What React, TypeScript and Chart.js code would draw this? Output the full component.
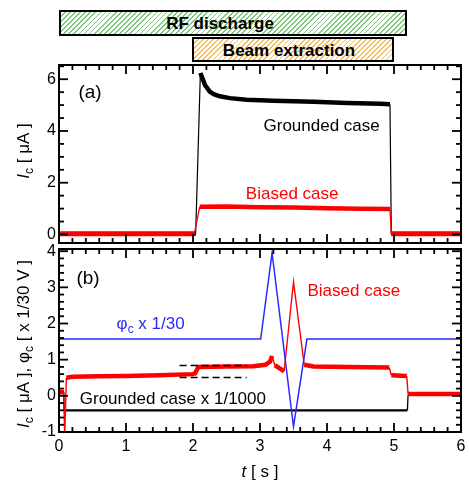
import React, { useEffect, useRef } from 'react';
import { Chart, registerables } from 'chart.js';

Chart.register(...registerables);

const FONT = "'Liberation Sans', Arial, Helvetica, sans-serif";

// ---------- Panel (a) data ----------
const A_GROUNDED_T = [0, 2.04, 2.11, 2.18, 2.25, 2.31, 2.4, 2.55, 2.8, 3.2, 3.8, 4.3, 4.8, 4.94, 4.96, 6];
const A_GROUNDED_I = [0.03, 0.03, 6.24, 5.77, 5.52, 5.42, 5.34, 5.27, 5.21, 5.17, 5.13, 5.08, 5.05, 5.03, 0.03, 0.03];
const A_BIASED_T = [0, 2.02, 2.1, 2.5, 3.0, 3.5, 4.0, 4.5, 4.94, 4.96, 6];
const A_BIASED_I = [0.02, 0.02, 1.07, 1.08, 1.05, 1.04, 1.01, 0.99, 0.98, 0.02, 0.02];

// ---------- Panel (b) data ----------
const B_BIASED_T = [0, 0.07, 0.085, 0.11, 0.2, 0.6, 1.0, 1.5, 2.0, 2.03, 2.08, 2.5, 2.9, 3.08, 3.15, 3.18, 3.22, 3.3, 3.36, 3.5, 3.66, 3.8, 4.3, 4.93, 4.96, 5.19, 5.21, 6];
const B_BIASED_I = [0.1, 0.1, -1.1, 0.5, 0.53, 0.54, 0.55, 0.57, 0.6, 0.62, 0.8, 0.81, 0.82, 0.86, 0.95, 1.1, 0.85, 0.75, 0.68, 3.15, 0.86, 0.81, 0.8, 0.78, 0.57, 0.55, 0.05, 0.05];
const B_GROUNDED_T = [0, 0.07, 0.075, 5.2, 5.21, 6];
const B_GROUNDED_I = [0.12, 0.12, -0.4, -0.4, 0.03, 0.03];
const B_PHI_T = [0, 3.01, 3.18, 3.5, 3.7, 6];
const B_PHI_V = [1.57, 1.57, 3.95, -0.85, 1.57, 1.57];
const DASH_T = [1.8, 2.8];
const DASH_UPPER = [0.84, 0.84];
const DASH_LOWER = [0.51, 0.51];

// ---------- Axes ----------
const X_LABELS = [0, 1, 2, 3, 4, 5, 6];
const X_MINOR = [0.2, 0.4, 0.6, 0.8, 1.2, 1.4, 1.6, 1.8, 2.2, 2.4, 2.6, 2.8, 3.2, 3.4, 3.6, 3.8, 4.2, 4.4, 4.6, 4.8, 5.2, 5.4, 5.6, 5.8];
const A_Y_LABELS = [0, 2, 4, 6];
const A_Y_MINOR = [0.5, 1, 1.5, 2.5, 3, 3.5, 4.5, 5, 5.5, 6.5];
const B_Y_LABELS = [-1, 0, 1, 2, 3, 4];
const B_Y_MINOR = [-0.8, -0.6, -0.4, -0.2, 0.2, 0.4, 0.6, 0.8, 1.2, 1.4, 1.6, 1.8, 2.2, 2.4, 2.6, 2.8, 3.2, 3.4, 3.6, 3.8];

const RED = '#ff0000';
const BLUE = '#2a2aff';
const BLACK = '#000000';

type Run = { s: string; size: number; style?: string; dy?: number };

function drawRuns(ctx: CanvasRenderingContext2D, runs: Run[], x: number, y: number, align: 'left' | 'center', color: string, rotate = false) {
  ctx.save();
  ctx.translate(x, y);
  if (rotate) ctx.rotate(-Math.PI / 2);
  const widths = runs.map((r) => {
    ctx.font = `${r.style ?? ''} ${r.size}px ${FONT}`;
    return ctx.measureText(r.s).width;
  });
  const total = widths.reduce((a, b) => a + b, 0);
  let cx = align === 'center' ? -total / 2 : 0;
  const main = Math.max(...runs.map((r) => r.size));
  const base = main * 0.36;
  ctx.fillStyle = color;
  ctx.textBaseline = 'alphabetic';
  ctx.textAlign = 'left';
  runs.forEach((r, i) => {
    ctx.font = `${r.style ?? ''} ${r.size}px ${FONT}`;
    ctx.fillText(r.s, cx, base + (r.dy ?? 0));
    cx += widths[i];
  });
  ctx.restore();
}

type Label = { t: number; v: number; runs: Run[]; align: 'left' | 'center'; color: string };
type PixLabel = { x: number; y: number; runs: Run[]; align: 'left' | 'center'; color: string; rotate?: boolean };

function makePlugin(yMajor: number[], yMinor: number[], labels: Label[], pix: PixLabel[]) {
  return {
    id: 'frameAndText',
    afterDraw(chart: any) {
      const ctx = chart.ctx;
      const a = chart.chartArea;
      const xs = chart.scales.x;
      const ys = chart.scales.y;
      labels.forEach((l) => drawRuns(ctx, l.runs, xs.getPixelForValue(l.t), ys.getPixelForValue(l.v), l.align, l.color));
      pix.forEach((l) => drawRuns(ctx, l.runs, l.x, l.y, l.align, l.color, l.rotate));
      ctx.save();
      ctx.fillStyle = '#000000';
      const W = 1.8;
      X_MINOR.forEach((v: number) => {
        const p = xs.getPixelForValue(v);
        ctx.fillRect(p - W / 2, a.bottom - 5, W, 5);
        ctx.fillRect(p - W / 2, a.top, W, 5);
      });
      X_LABELS.forEach((v: number) => {
        const p = xs.getPixelForValue(v);
        ctx.fillRect(p - W / 2, a.bottom - 9, W, 9);
        ctx.fillRect(p - W / 2, a.top, W, 9);
      });
      yMinor.forEach((v: number) => {
        const p = ys.getPixelForValue(v);
        ctx.fillRect(a.left, p - W / 2, 5, W);
        ctx.fillRect(a.right - 5, p - W / 2, 5, W);
      });
      yMajor.forEach((v: number) => {
        const p = ys.getPixelForValue(v);
        ctx.fillRect(a.left, p - W / 2, 9, W);
        ctx.fillRect(a.right - 9, p - W / 2, 9, W);
      });
      ctx.strokeStyle = '#000000';
      ctx.lineWidth = 2;
      ctx.strokeRect(a.left, a.top, a.right - a.left, a.bottom - a.top);
      ctx.restore();
    },
  };
}

const pts = (t: number[], v: number[]) => t.map((x, i) => ({ x, y: v[i] }));
const noisySeg = (thick: number, thin: number) => ({
  borderWidth: (c: any) => (Math.abs(c.p1.y - c.p0.y) > 3 * Math.abs(c.p1.x - c.p0.x) ? thin : thick),
});

function baseOptions(padding: any, xScale: any, yScale: any) {
  return {
    responsive: false,
    animation: false as const,
    events: [] as any[],
    layout: { padding },
    plugins: { legend: { display: false }, tooltip: { enabled: false } },
    elements: { point: { radius: 0 }, line: { tension: 0 } },
    scales: { x: xScale, y: yScale },
  };
}

function yScale(min: number, max: number, labels: number[]) {
  return {
    type: 'linear',
    min,
    max,
    afterBuildTicks: (s: any) => {
      s.ticks = labels.map((value) => ({ value }));
    },
    ticks: { color: '#000', font: { family: FONT, size: 16 }, padding: 3, callback: (v: any) => String(v) },
    grid: { display: false, drawTicks: false },
    border: { display: false },
    afterFit: (s: any) => {
      s.width = 59;
      s.paddingTop = 0;
      s.paddingBottom = 0;
    },
  };
}

export default function App() {
  const refA = useRef<HTMLCanvasElement>(null);
  const refB = useRef<HTMLCanvasElement>(null);

  useEffect(() => {
    const cfgA: any = {
      type: 'line',
      data: {
        datasets: [
          { data: pts(A_BIASED_T, A_BIASED_I), borderColor: RED, borderWidth: 4, segment: noisySeg(4.5, 1.3), pointRadius: 0, order: 0 },
          { data: pts(A_GROUNDED_T, A_GROUNDED_I), borderColor: BLACK, borderWidth: 4, segment: noisySeg(4.5, 1.2), pointRadius: 0, order: 1 },
        ],
      },
      options: baseOptions(
        { left: 0, right: 8, top: 10, bottom: 7 },
        {
          type: 'linear',
          min: 0,
          max: 6,
          ticks: { display: false },
          grid: { display: false, drawTicks: false },
          border: { display: false },
          afterFit: (s: any) => {
            s.height = 0;
            s.paddingLeft = 0;
            s.paddingRight = 0;
          },
        },
        yScale(-0.33, 6.55, A_Y_LABELS)
      ),
      plugins: [
        makePlugin(
          A_Y_LABELS,
          A_Y_MINOR,
          [
            { t: 0.464, v: 5.55, runs: [{ s: '(a)', size: 19 }], align: 'center', color: BLACK },
            { t: 3.92, v: 4.25, runs: [{ s: 'Grounded case', size: 17 }], align: 'center', color: BLACK },
            { t: 3.48, v: 1.61, runs: [{ s: 'Biased case', size: 17 }], align: 'center', color: RED },
          ],
          [
            {
              x: 23,
              y: 96,
              rotate: true,
              align: 'center',
              color: BLACK,
              runs: [
                { s: 'I', size: 17, style: 'italic' },
                { s: 'c', size: 12, dy: 4 },
                { s: ' [ μA ]', size: 17 },
              ],
            },
          ]
        ),
      ],
    };

    const cfgB: any = {
      type: 'line',
      data: {
        datasets: [
          { data: pts(DASH_T, DASH_UPPER), borderColor: BLACK, borderWidth: 1.5, borderDash: [7, 4], pointRadius: 0, order: 0 },
          { data: pts(DASH_T, DASH_LOWER), borderColor: BLACK, borderWidth: 1.5, borderDash: [7, 4], pointRadius: 0, order: 1 },
          { data: pts(B_PHI_T, B_PHI_V), borderColor: BLUE, borderWidth: 1.5, pointRadius: 0, order: 2 },
          { data: pts(B_BIASED_T, B_BIASED_I), borderColor: RED, borderWidth: 4, segment: noisySeg(4.5, 1.4), pointRadius: 0, order: 3 },
          { data: pts(B_GROUNDED_T, B_GROUNDED_I), borderColor: BLACK, borderWidth: 2, segment: noisySeg(2.2, 1.3), pointRadius: 0, order: 4 },
        ],
      },
      options: baseOptions(
        { left: 0, right: 8, top: 5, bottom: 0 },
        {
          type: 'linear',
          min: 0,
          max: 6,
          afterBuildTicks: (s: any) => {
            s.ticks = X_LABELS.map((value) => ({ value }));
          },
          ticks: { color: '#000', font: { family: FONT, size: 16 }, padding: 5, maxRotation: 0, callback: (v: any) => String(v) },
          grid: { display: false, drawTicks: false },
          border: { display: false },
          afterFit: (s: any) => {
            s.height = 48;
            s.paddingLeft = 0;
            s.paddingRight = 0;
          },
        },
        yScale(-1.0, 4.06, B_Y_LABELS)
      ),
      plugins: [
        makePlugin(
          B_Y_LABELS,
          B_Y_MINOR,
          [
            { t: 0.434, v: 3.28, runs: [{ s: '(b)', size: 19 }], align: 'center', color: BLACK },
            {
              t: 0.86,
              v: 2.01,
              runs: [
                { s: 'φ', size: 17 },
                { s: 'c', size: 12, dy: 4 },
                { s: ' x 1/30', size: 17 },
              ],
              align: 'left',
              color: BLUE,
            },
            { t: 4.4, v: 2.93, runs: [{ s: 'Biased case', size: 17 }], align: 'center', color: RED },
            { t: 0.31, v: -0.05, runs: [{ s: 'Grounded case x 1/1000', size: 17 }], align: 'left', color: BLACK },
          ],
          [
            {
              x: 23,
              y: 100,
              rotate: true,
              align: 'center',
              color: BLACK,
              runs: [
                { s: 'I', size: 17, style: 'italic' },
                { s: 'c', size: 12, dy: 4 },
                { s: ' [ μA ], ', size: 17 },
                { s: 'φ', size: 17 },
                { s: 'c', size: 12, dy: 4 },
                { s: ' [ x 1/30 V ]', size: 17 },
              ],
            },
            {
              x: 260,
              y: 227,
              align: 'center',
              color: BLACK,
              runs: [
                { s: 't', size: 17, style: 'italic' },
                { s: ' [ s ]', size: 17 },
              ],
            },
          ]
        ),
      ],
    };

    const ca = new Chart(refA.current as HTMLCanvasElement, cfgA);
    const cb = new Chart(refB.current as HTMLCanvasElement, cfgB);
    return () => {
      ca.destroy();
      cb.destroy();
    };
  }, []);

  const barText: React.CSSProperties = {
    position: 'absolute',
    transform: 'translate(-50%, -50%)',
    fontFamily: FONT,
    fontWeight: 'bold',
    fontSize: 17,
    whiteSpace: 'nowrap',
    color: '#000',
    lineHeight: 1,
  };

  return (
    <div style={{ position: 'fixed', left: 0, top: 0, width: 469, height: 480, background: '#fff', overflow: 'hidden' }}>
      <canvas ref={refA} width={469} height={195} style={{ position: 'absolute', left: 0, top: 55, width: 469, height: 195 }} />
      <canvas ref={refB} width={469} height={236} style={{ position: 'absolute', left: 0, top: 244, width: 469, height: 236 }} />
      <div
        style={{
          position: 'absolute',
          left: 59,
          top: 10,
          width: 348,
          height: 26,
          boxSizing: 'border-box',
          border: '2px solid #000',
          background: 'repeating-linear-gradient(135deg, #ffffff 0px, #ffffff 2.4px, #7cc97c 2.4px, #7cc97c 3.6px)',
        }}
      >
        <span style={{ ...barText, left: 159, top: 11 }}>RF discharge</span>
      </div>
      <div
        style={{
          position: 'absolute',
          left: 192,
          top: 37,
          width: 202,
          height: 25,
          boxSizing: 'border-box',
          border: '2px solid #000',
          background: 'repeating-linear-gradient(135deg, #ffffff 0px, #ffffff 2.4px, #f3bd62 2.4px, #f3bd62 3.6px)',
        }}
      >
        <span style={{ ...barText, left: 95, top: 10.5 }}>Beam extraction</span>
      </div>
    </div>
  );
}
